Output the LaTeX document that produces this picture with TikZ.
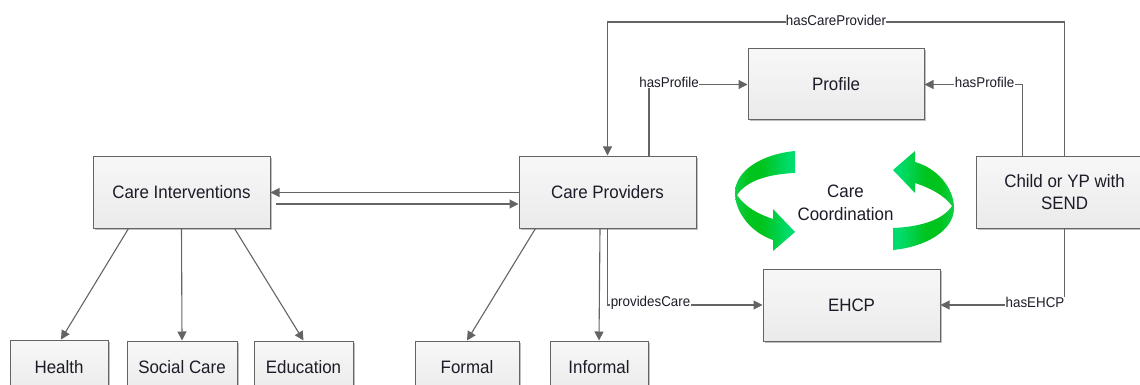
\documentclass[tikz,border=0pt]{standalone}
\usepackage{fontspec}
\setmainfont[FakeStretch=0.94]{Liberation Sans}
\usetikzlibrary{arrows.meta,shadows,calc}
\definecolor{edgegrey}{HTML}{646464}
\definecolor{txt}{HTML}{1C1C28}
\definecolor{grA}{HTML}{00DC6C}
\definecolor{grB}{HTML}{00C41E}
\definecolor{grC}{HTML}{10D048}
\pgfdeclarehorizontalshading{swirlLs}{100bp}{color(0bp)=(grC); color(25bp)=(grC); color(36bp)=(grB); color(48bp)=(grB); color(70bp)=(grA); color(100bp)=(grA)}
\pgfdeclarehorizontalshading{swirlRs}{100bp}{color(0bp)=(grA); color(30bp)=(grA); color(52bp)=(grB); color(64bp)=(grB); color(75bp)=(grC); color(100bp)=(grC)}
\tikzset{
  box/.style={draw=edgegrey,line width=1pt,rectangle,inner sep=0pt,align=center,text=txt,
    top color=white!97!black,bottom color=white!92!black,
    font=\fontsize{18}{23}\selectfont,
    drop shadow={shadow xshift=1.5pt,shadow yshift=-1.5pt,opacity=.25,fill=black}},
  bigbox/.style={box,minimum width=177pt,minimum height=72pt},
  conn/.style={draw=edgegrey,line width=1.1pt},
  arr/.style={conn,-{Triangle[length=9pt,width=9pt]}},
  lab/.style={fill=white,inner sep=0.4pt,text=txt,font=\fontsize{14.2}{15}\selectfont},
  free/.style={text=txt,align=center,font=\fontsize{18}{23}\selectfont,inner sep=0pt},
}
\begin{document}
\begin{tikzpicture}[x=1pt,y=-1pt]
\useasboundingbox (0,0) rectangle (1140,385);
\clip (0,0) rectangle (1140,385);

\node[bigbox] (ci) at (181.5,192) {Care Interventions};
\node[bigbox] (cp) at (607.5,192) {Care Providers};
\node[bigbox,minimum width=176pt,minimum height=71pt] (pr) at (836,84.5) {Profile};
\node[bigbox,font=\fontsize{18}{22}\selectfont] (yp) at (1064.5,192) {Child or YP with\\SEND};
\node[bigbox] (eh) at (851.5,305) {EHCP};
\node[box,minimum width=98pt,minimum height=54pt] (he) at (59,367) {Health};
\node[box,minimum width=110pt,minimum height=52pt] (sc) at (182,367) {Social Care};
\node[box,minimum width=99pt,minimum height=52pt] (ed) at (303.5,367) {Education};
\node[box,minimum width=104pt,minimum height=52pt] (fo) at (467,367) {Formal};
\node[box,minimum width=98pt,minimum height=52pt] (in) at (599,367) {Informal};

% left/right links between the two main boxes
\draw[arr] ([yshift=-.5pt]cp.west) -- ([yshift=-.5pt]ci.east);
\draw[arr] ([shift={(5pt,-12pt)}]ci.east) -- ([yshift=-12pt]cp.west);

% children of the main boxes
\draw[arr] ([xshift=36pt]ci.south west) -- ([xshift=2pt]he.north);
\draw[arr] (ci.south) -- (sc.north);
\draw[arr] ([xshift=-36pt]ci.south east) -- (ed.north);
\draw[arr] ([xshift=17pt]cp.south west) -- (fo.north);
\draw[arr] ([xshift=-7.5pt]cp.south) -- (in.north);

% labelled routed links
\draw[arr] ([xshift=-47.5pt]cp.north east) |- (pr.west);
\node[lab] (lpa) at (669,82) {hasProfile};
\draw[arr] ([xshift=47pt]yp.north west) |- (pr.east);
\node[lab] (lpb) at (984.5,82) {hasProfile};
\draw[arr] (yp.north) |- (cp.north |- 0,22) -- (cp.north);
\node[lab] (lcp) at (836,20.5) {hasCareProvider};
\draw[arr] (cp.south) |- (eh.west);
\node[lab] (lpc) at (650.5,303) {providesCare};
\draw[arr] (yp.south) |- (eh.east);
\node[lab] (leh) at (1035,302.5) {hasEHCP};

% care coordination
\path[shading=swirlLs] (795,151) .. controls (763,154) and (735,170) .. (735,193)
  .. controls (735,213) and (752,233) .. (773,240) -- (773,251) -- (795,232) -- (773,209) -- (773,219)
  .. controls (758,214) and (745,207) .. (737,195)
  .. controls (747,180) and (770,174) .. (795,173) -- cycle;
\path[shading=swirlRs] (893,250) .. controls (925,247) and (954,231) .. (954,208)
  .. controls (954,188) and (937,168) .. (915,162) -- (915,151) -- (893,170) -- (915,193) -- (915,183)
  .. controls (930,188) and (944,195) .. (952,206)
  .. controls (942,221) and (918,227) .. (893,228) -- cycle;
\node[free] (cc) at (845.5,203) {Care\\Coordination};
\end{tikzpicture}
\end{document}
